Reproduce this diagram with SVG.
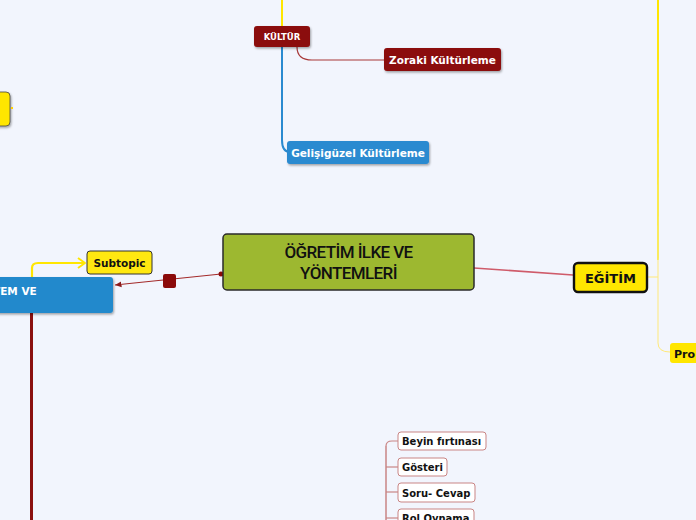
<svg xmlns="http://www.w3.org/2000/svg" width="696" height="520" viewBox="0 0 696 520">
<defs>
<style>
.t{font-family:"DejaVu Sans","Liberation Sans",sans-serif;font-weight:bold}
.w{fill:#fff}
.k{fill:#111}
.sub{fill:#fff;stroke:#c98585;stroke-width:1}
.c{font-family:Roboto,"Liberation Sans",sans-serif;font-weight:500;font-size:17px;fill:#111;letter-spacing:-0.6px}
</style>
<filter id="sh" x="-10%" y="-10%" width="130%" height="140%">
<feDropShadow dx="1" dy="1.5" stdDeviation="0.8" flood-color="#000" flood-opacity="0.35"/>
</filter>
<marker id="arr" viewBox="0 0 10 10" refX="9" refY="5" markerWidth="6" markerHeight="6" orient="auto">
<path d="M0,1 L9,5 L0,9 z" fill="#8b1a1a"/>
</marker>
</defs>
<rect width="696" height="520" fill="#f2f5fd"/>
<g id="connectors" fill="none">
<path d="M282,0 V27" stroke="#ffe600" stroke-width="2"/>
<path d="M297,47 Q297,60 312,60 H385" stroke="#a83838" stroke-width="1.2"/>
<path d="M282,47 V140 Q282,152 290,152" stroke="#2a8ad0" stroke-width="2"/>
<path d="M657,0 L659,0 L658.6,260 L657.4,260 Z" fill="#ffe600" stroke="none"/>
<path d="M658,260 V343 Q658,352 670,352" stroke="#ffe97a" stroke-width="1"/>
<path d="M647,277 H658" stroke="#ffe97a" stroke-width="1"/>
<path d="M474,268 L573,275" stroke="#cf5b6a" stroke-width="1.6"/>
<path d="M221,274 L115,285" stroke="#a32a2a" stroke-width="1.2" marker-end="url(#arr)"/>
<circle cx="221" cy="274" r="2.5" fill="#8b0a0a"/>
<rect x="163" y="274" width="13" height="14" rx="2" fill="#8b0a0a"/>
<path d="M32,277 V268 Q32,263 38,263 H84" stroke="#ffe600" stroke-width="2.2"/>
<path d="M78,258 L85,263 L78,268" stroke="#ffe600" stroke-width="2" stroke-linejoin="round"/>
<path d="M31.5,313 V520" stroke="#8b1010" stroke-width="3"/>
<path d="M386,446 V520" stroke="#c98585" stroke-width="1.5"/>
<path d="M386,446 Q386,441 392,441 H398" stroke="#c98585" stroke-width="1.2"/>
<path d="M386,467 H398" stroke="#c98585" stroke-width="1.2"/>
<path d="M386,492 H398" stroke="#c98585" stroke-width="1.2"/>
<path d="M386,518 H398" stroke="#c98585" stroke-width="1.2"/>
</g>
<g id="kultur">
<rect x="254" y="26" width="56" height="21" rx="3" fill="#8b0a0a" filter="url(#sh)"/>
<text x="282" y="40" class="t w" font-size="8.5" text-anchor="middle">KÜLTÜR</text>
</g>
<g id="zoraki">
<rect x="384" y="48" width="117" height="23" rx="3" fill="#8b0a0a" filter="url(#sh)"/>
<text x="442.5" y="63.5" class="t w" font-size="10.5" text-anchor="middle">Zoraki Kültürleme</text>
</g>
<g id="gelisiguzel">
<rect x="287" y="141" width="142" height="23" rx="3" fill="#2a8ad0" filter="url(#sh)"/>
<text x="358" y="156.5" class="t w" font-size="10.5" text-anchor="middle">Gelişigüzel Kültürleme</text>
</g>
<g id="left-yellow">
<rect x="-10" y="92" width="20" height="34" rx="4" fill="#ffe600" stroke="#444" stroke-width="0.8" filter="url(#sh)"/>
<rect x="11" y="107" width="2" height="2" fill="#ffd000"/>
</g>
<g id="center">
<rect x="223" y="234" width="251" height="56" rx="4" fill="#9db830" stroke="#2a2a2a" stroke-width="1.5"/>
<text x="348.5" y="257.5" class="c" text-anchor="middle">ÖĞRETİM İLKE VE</text>
<text x="348.5" y="278.5" class="c" text-anchor="middle">YÖNTEMLERİ</text>
</g>
<g id="blue-main">
<rect x="-20" y="277" width="133" height="36" rx="3" fill="#2389cc" filter="url(#sh)"/>
<text x="-7" y="295" class="t w" font-size="10.5">TEM VE</text>
</g>
<g id="subtopic">
<rect x="87" y="251" width="65" height="23" rx="3" fill="#ffe810" stroke="#333" stroke-width="1"/>
<text x="119.5" y="266.5" class="t k" font-size="10.5" text-anchor="middle">Subtopic</text>
</g>
<g id="egitim">
<rect x="574" y="263" width="73" height="29" rx="4" fill="#ffe600" stroke="#111" stroke-width="2.4"/>
<text x="610.5" y="282.5" class="t k" font-size="13" text-anchor="middle">EĞİTİM</text>
</g>
<g id="pro">
<rect x="670" y="343" width="40" height="20" rx="3" fill="#ffe600"/>
<text x="674" y="357.5" class="t k" font-size="11">Pro</text>
</g>
<g id="beyin">
<rect x="398" y="432" width="88" height="18" rx="3" class="sub"/>
<text x="402" y="445" class="t k" font-size="10">Beyin fırtınası</text>
</g>
<g id="gosteri">
<rect x="398" y="458" width="49" height="18" rx="3" class="sub"/>
<text x="402" y="471" class="t k" font-size="10">Gösteri</text>
</g>
<g id="soru">
<rect x="398" y="483" width="77" height="19" rx="3" class="sub"/>
<text x="402" y="496.5" class="t k" font-size="10">Soru- Cevap</text>
</g>
<g id="rol">
<rect x="398" y="509" width="76" height="19" rx="3" class="sub"/>
<text x="402" y="522" class="t k" font-size="10">Rol Oynama</text>
</g>
</svg>
